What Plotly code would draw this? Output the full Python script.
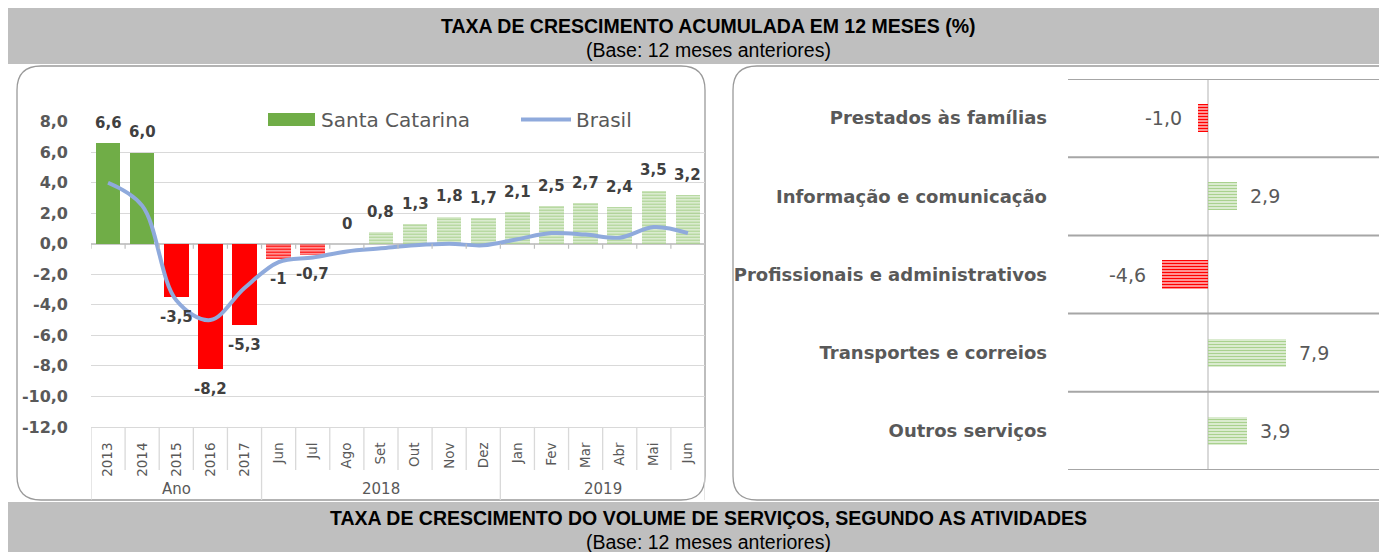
import plotly.graph_objects as go

# page body has an 8px margin, so the figure is drawn offset by (8, 8)
OX, OY = 8, 8
W, H = 1387 - OX, 552 - OY

# ---------------- data ----------------
periods = ["2013", "2014", "2015", "2016", "2017",
           "Jun", "Jul", "Ago", "Set", "Out", "Nov", "Dez",
           "Jan", "Fev", "Mar", "Abr", "Mai", "Jun"]
period_group = ["Ano"] * 5 + ["2018"] * 7 + ["2019"] * 6
santa_catarina = [6.6, 6.0, -3.5, -8.2, -5.3, -1.0, -0.7, 0.0, 0.8, 1.3,
                  1.8, 1.7, 2.1, 2.5, 2.7, 2.4, 3.5, 3.2]
sc_labels = ["6,6", "6,0", "-3,5", "-8,2", "-5,3", "-1", "-0,7", "0", "0,8", "1,3",
             "1,8", "1,7", "2,1", "2,5", "2,7", "2,4", "3,5", "3,2"]
brasil = [4.0, 2.5, -3.7, -5.0, -2.9, -1.2, -0.9, -0.5, -0.3, -0.1,
          0.0, -0.1, 0.3, 0.7, 0.6, 0.4, 1.1, 0.7]
y_tickvals = [-12, -10, -8, -6, -4, -2, 0, 2, 4, 6, 8]
y_ticktext = ["-12,0", "-10,0", "-8,0", "-6,0", "-4,0", "-2,0", "0,0", "2,0", "4,0", "6,0", "8,0"]

activities = ["Prestados às famílias", "Informação e comunicação",
              "Profissionais e administrativos", "Transportes e correios", "Outros serviços"]
activity_values = [-1.0, 2.9, -4.6, 7.9, 3.9]
activity_labels = ["-1,0", "2,9", "-4,6", "7,9", "3,9"]

title_top = "TAXA DE CRESCIMENTO ACUMULADA EM 12 MESES (%)"
title_bottom = "TAXA DE CRESCIMENTO DO VOLUME DE SERVIÇOS, SEGUNDO AS ATIVIDADES"
subtitle = "(Base: 12 meses anteriores)"
legend_names = ["Santa Catarina", "Brasil"]

# ---------------- styling helpers ----------------
GREEN = "#70AD47"
GREEN_HATCH = "#A9D18E"
RED = "#FF0000"
BLUE = "#8FAADC"
TXT = "#595959"
GRID = "#D9D9D9"
FONT = "DejaVu Sans"
TFONT = "Liberation Sans"


def px(x):
    return (x - OX) / W


def py(y):
    return 1 - (y - OY) / H


def rounded(x0, y0, x1, y1, r):
    X0, X1 = px(x0), px(x1)
    Y0, Y1 = py(y0), py(y1)
    rx, ry = r / W, r / H
    return (f"M {X0+rx},{Y0} L {X1-rx},{Y0} Q {X1},{Y0} {X1},{Y0-ry} "
            f"L {X1},{Y1+ry} Q {X1},{Y1} {X1-rx},{Y1} L {X0+rx},{Y1} "
            f"Q {X0},{Y1} {X0},{Y1+ry} L {X0},{Y0-ry} Q {X0},{Y0} {X0+rx},{Y0} Z")


n = len(periods)
idx = list(range(n))
annual = [g == "Ano" for g in period_group]
bar_colors = []
bar_shapes = []
for v, a in zip(santa_catarina, annual):
    if a:
        bar_colors.append(GREEN if v >= 0 else RED)
        bar_shapes.append("")
    else:
        bar_colors.append(GREEN_HATCH if v >= 0 else RED)
        bar_shapes.append("-")

fig = go.Figure()

# left chart: Santa Catarina bars
fig.add_trace(go.Bar(
    x=idx, y=santa_catarina, name=legend_names[0], width=0.72,
    marker=dict(color=bar_colors, line=dict(width=0),
                pattern=dict(shape=bar_shapes, fgcolor=bar_colors, bgcolor="white",
                             size=3, solidity=0.62, fillmode="replace")),
    showlegend=False, xaxis="x", yaxis="y", hoverinfo="skip"))

# left chart: Brasil line
fig.add_trace(go.Scatter(
    x=idx, y=brasil, name=legend_names[1], mode="lines",
    line=dict(color=BLUE, width=4, shape="spline", smoothing=1.0),
    showlegend=False, xaxis="x", yaxis="y", hoverinfo="skip"))

# right chart: activities
act_colors = [GREEN_HATCH if v >= 0 else RED for v in activity_values]
fig.add_trace(go.Bar(
    x=activity_values, y=activities, orientation="h", width=0.36,
    marker=dict(color=act_colors, line=dict(width=0),
                pattern=dict(shape="-", fgcolor=act_colors, bgcolor="white",
                             size=3, solidity=0.62, fillmode="replace")),
    showlegend=False, xaxis="x2", yaxis="y2", hoverinfo="skip"))

shapes = []
# header bands
shapes.append(dict(type="rect", xref="paper", yref="paper", x0=px(5), x1=1.01, y0=py(64), y1=py(4),
                   fillcolor="#BFBFBF", line=dict(width=0), layer="below"))
shapes.append(dict(type="rect", xref="paper", yref="paper", x0=px(5), x1=1.01, y0=-0.01, y1=py(502),
                   fillcolor="#BFBFBF", line=dict(width=0), layer="below"))
# panels
shapes.append(dict(type="path", xref="paper", yref="paper", path=rounded(17, 66, 705, 500, 24),
                   fillcolor="white", line=dict(color="#9A9A9A", width=1.3), layer="below"))
shapes.append(dict(type="path", xref="paper", yref="paper", path=rounded(733, 66, 1420, 500, 24),
                   fillcolor="white", line=dict(color="#9A9A9A", width=1.3), layer="below"))

# category table separators
for k in range(n + 1):
    full = k == 0 or k == n or period_group[k] != period_group[k - 1]
    shapes.append(dict(type="line", xref="x", yref="paper", x0=k - 0.5, x1=k - 0.5,
                       y0=py(426.9), y1=py(500 if full else 470),
                       line=dict(color=GRID, width=1.3)))
    # small tick marks on the zero line
    shapes.append(dict(type="line", xref="x", yref="y", ysizemode="pixel", yanchor=0,
                       x0=k - 0.5, x1=k - 0.5, y0=0, y1=-5,
                       line=dict(color="#BFBFBF", width=1.2)))

# legend (manual)
shapes.append(dict(type="rect", xref="paper", yref="paper", x0=px(268), x1=px(315),
                   y0=py(126), y1=py(113), fillcolor=GREEN, line=dict(width=0)))
shapes.append(dict(type="line", xref="paper", yref="paper", x0=px(521), x1=px(571),
                   y0=py(119.5), y1=py(119.5), line=dict(color=BLUE, width=4)))

# right chart separators
for k in range(len(activities) + 1):
    shapes.append(dict(type="line", xref="paper", yref="y2", x0=px(1068), x1=1,
                       y0=k - 0.5, y1=k - 0.5, line=dict(color="#A6A6A6", width=2)))

annotations = []
# titles
for text, y, bold in [(title_top, 26, True), (subtitle, 50, False),
                      (title_bottom, 518, True), (subtitle, 542, False)]:
    annotations.append(dict(xref="paper", yref="paper", x=px(708), y=py(y), text=text,
                            showarrow=False, xanchor="center", yanchor="middle",
                            font=dict(family=TFONT, size=19.5, color="black",
                                      weight="bold" if bold else "normal")))
# legend text
annotations.append(dict(xref="paper", yref="paper", x=px(319), y=py(119.5), text=legend_names[0],
                        showarrow=False, xanchor="left", yanchor="middle",
                        font=dict(family=FONT, size=20, color=TXT)))
annotations.append(dict(xref="paper", yref="paper", x=px(574), y=py(119.5), text=legend_names[1],
                        showarrow=False, xanchor="left", yanchor="middle",
                        font=dict(family=FONT, size=20, color=TXT)))
# bar data labels
for i, (v, t) in enumerate(zip(santa_catarina, sc_labels)):
    annotations.append(dict(xref="x", yref="y", x=i, y=v, text=t, showarrow=False,
                            xanchor="center", yanchor="bottom" if v >= 0 else "top",
                            yshift=9 if v >= 0 else -9,
                            font=dict(family=FONT, size=15, color="#404040", weight="bold")))
# group labels
groups = []
for g in period_group:
    if g not in groups:
        groups.append(g)
for g in groups:
    members = [i for i, gg in enumerate(period_group) if gg == g]
    annotations.append(dict(xref="x", yref="paper", x=sum(members) / len(members), y=py(489),
                            text=g, showarrow=False, xanchor="center", yanchor="middle",
                            font=dict(family=FONT, size=15, color=TXT)))
# right chart value labels
for a, v, t in zip(activities, activity_values, activity_labels):
    annotations.append(dict(xref="x2", yref="y2", x=v, y=a, text=t, showarrow=False,
                            xanchor="left" if v >= 0 else "right", yanchor="middle",
                            xshift=11 if v >= 0 else -14,
                            font=dict(family=FONT, size=19, color=TXT)))

fig.update_layout(
    width=W, height=H, margin=dict(l=0, r=0, t=0, b=0, pad=0, autoexpand=False),
    paper_bgcolor="white", plot_bgcolor="rgba(0,0,0,0)",
    bargap=0, showlegend=False,
    shapes=shapes, annotations=annotations,
    xaxis=dict(domain=[px(91), px(705)], range=[-0.5, n - 0.5], anchor="y", automargin=False,
               tickmode="array", tickvals=idx, ticktext=periods, tickangle=-90,
               tickfont=dict(family=FONT, size=13.5, color=TXT), ticks="",
               ticklabelstandoff=9, showgrid=False, zeroline=False,
               showline=True, linecolor=GRID, linewidth=1.3),
    yaxis=dict(domain=[py(426.9), py(121.7)], range=[-12, 8], anchor="x", automargin=False,
               tickmode="array", tickvals=y_tickvals, ticktext=y_ticktext,
               tickfont=dict(family=FONT, size=16, color=TXT, weight="bold"),
               ticks="", ticklabelstandoff=22, showgrid=True, gridcolor=GRID, gridwidth=1.2,
               zeroline=True, zerolinecolor="#C8C8C8", zerolinewidth=1.5, showline=False),
    xaxis2=dict(domain=[px(1068), 1], range=[-14.14, 18.08 * (1387 - 1208) / (1387 - 1208)],
                anchor="y2", automargin=False,
                showticklabels=False, ticks="", showgrid=False,
                zeroline=True, zerolinecolor=GRID, zerolinewidth=2, showline=False),
    yaxis2=dict(domain=[py(470), py(79)], anchor="x2", type="category", automargin=False,
                categoryorder="array", categoryarray=activities, range=[4.5, -0.5],
                tickfont=dict(family=FONT, size=18, color=TXT, weight="bold"),
                ticks="", ticklabelstandoff=20, showgrid=False, zeroline=False, showline=False),
)

fig.write_html("out.html")
